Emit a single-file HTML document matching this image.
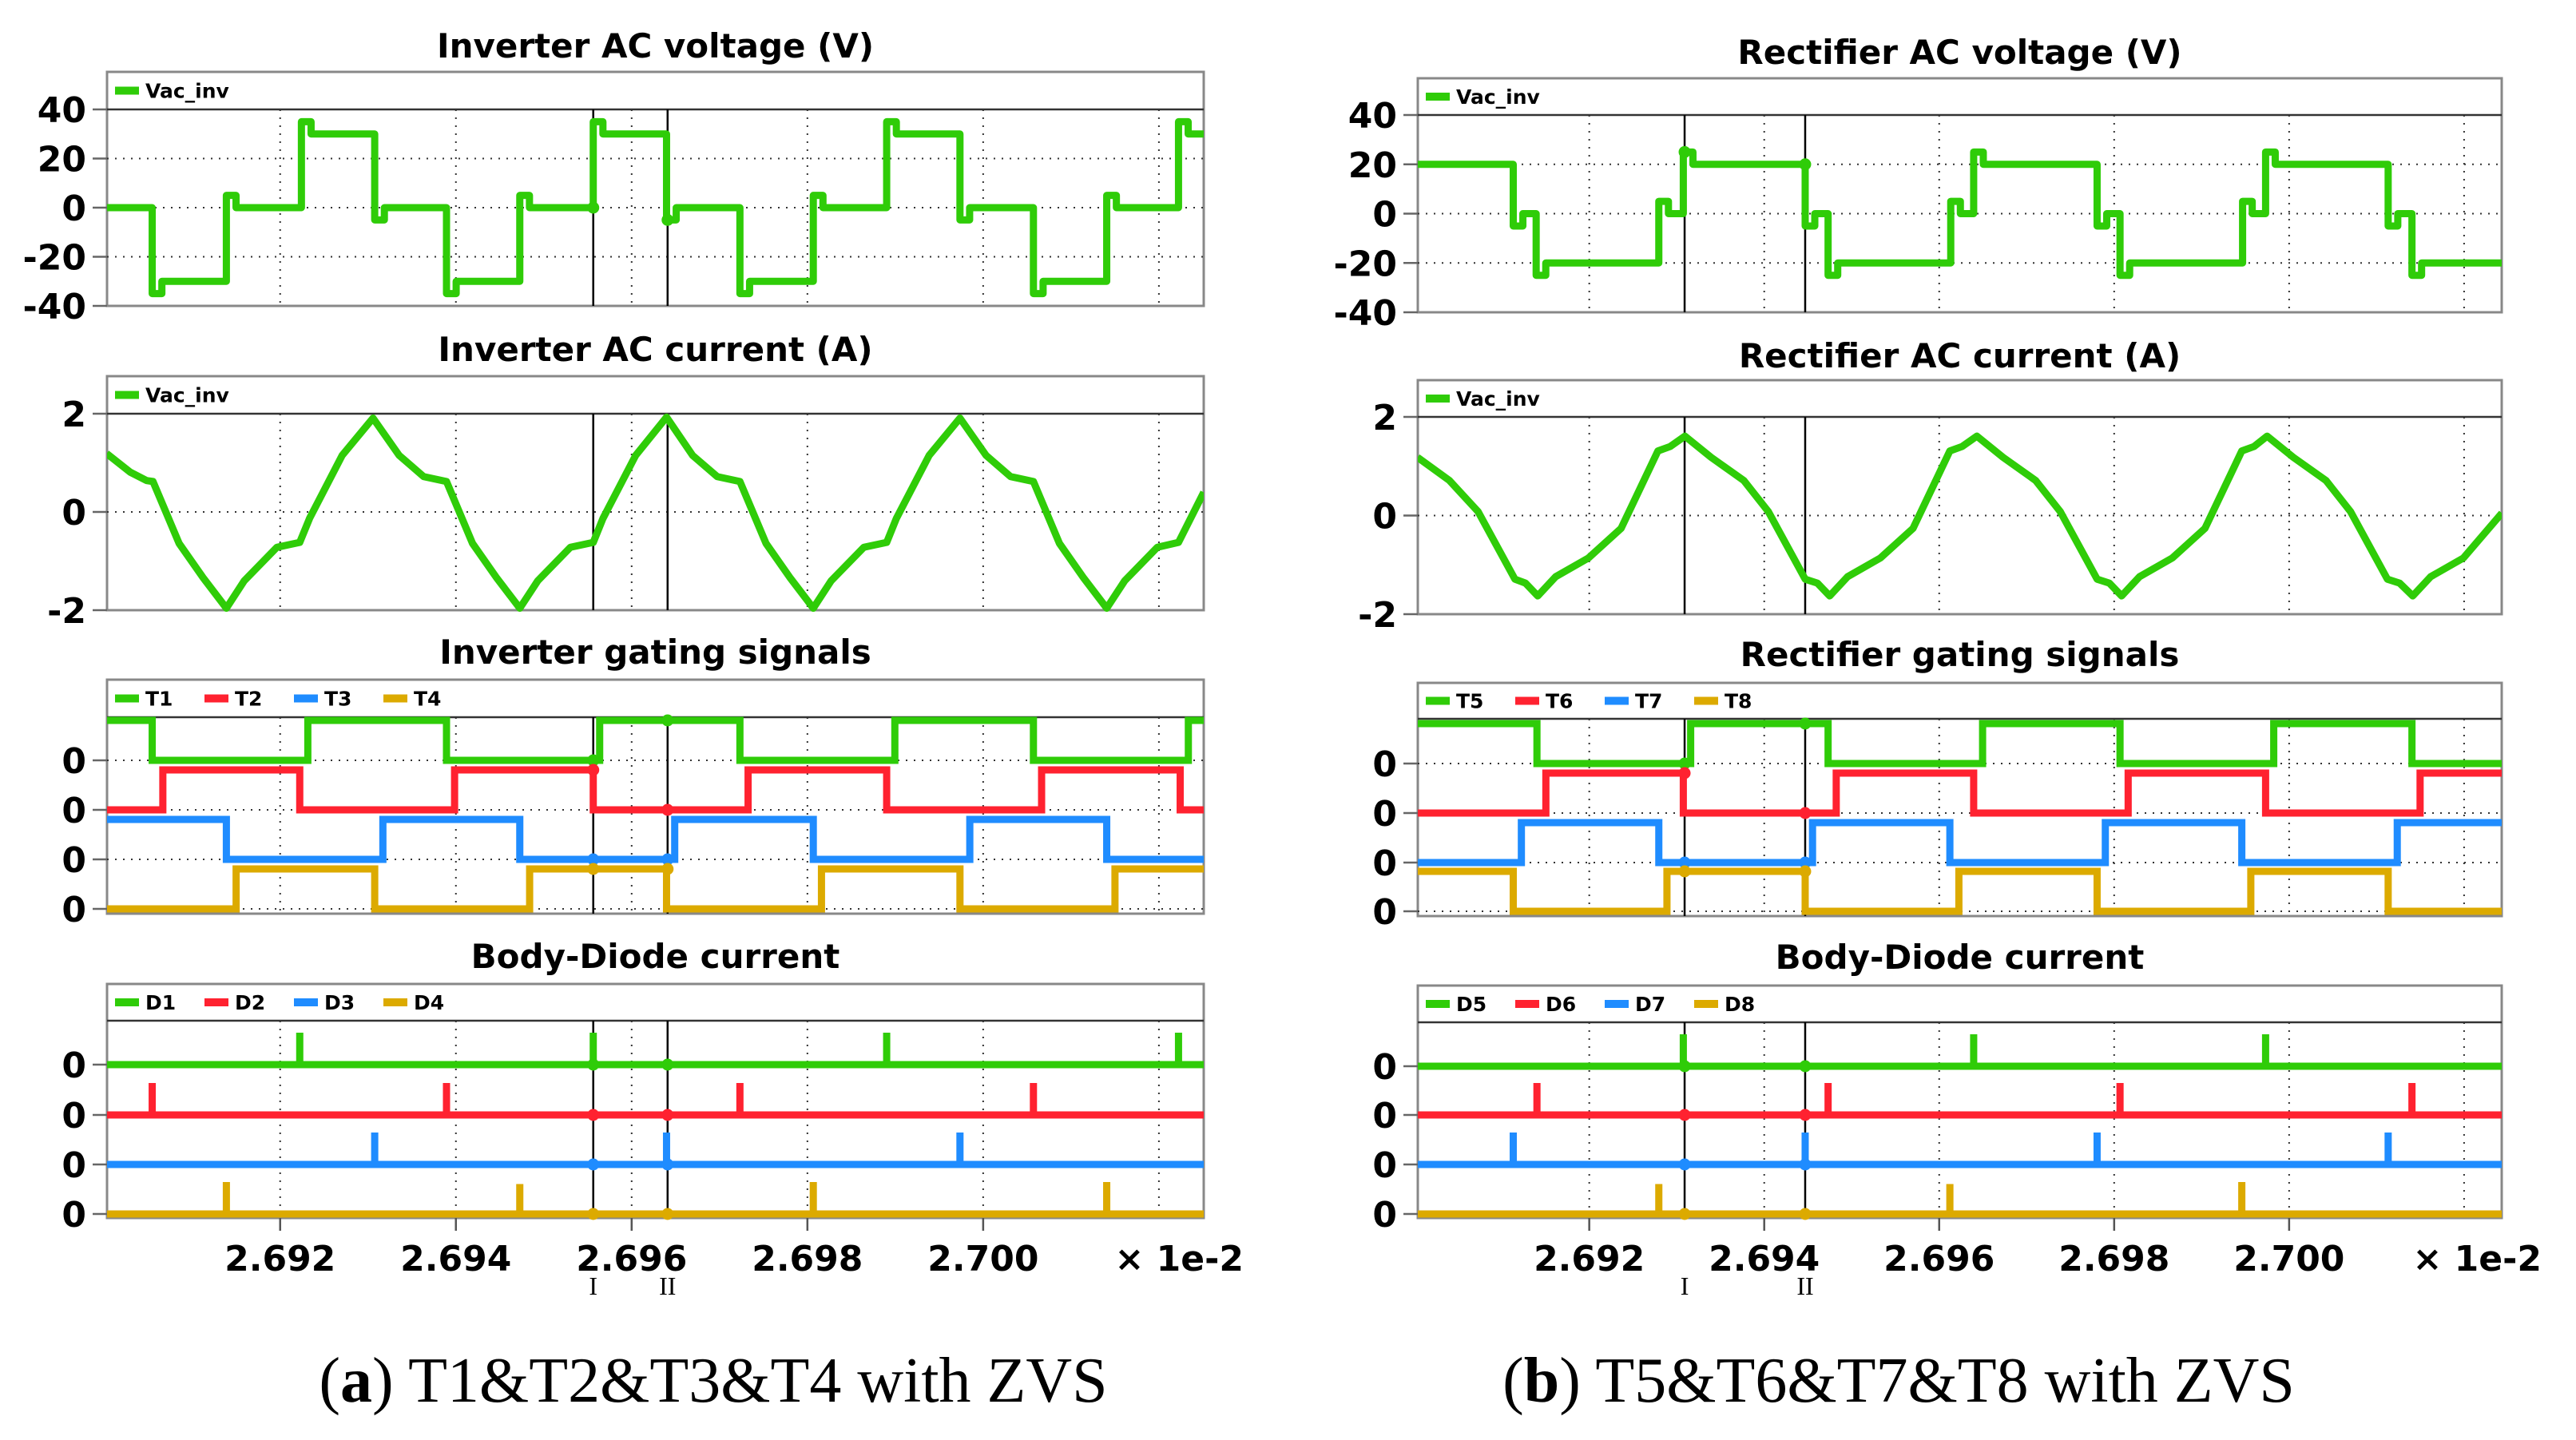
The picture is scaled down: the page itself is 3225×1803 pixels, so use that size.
<!DOCTYPE html>
<html><head><meta charset="utf-8"><style>
html,body{margin:0;padding:0;background:#fff;}
svg{display:block;}
text{font-family:"DejaVu Sans","Liberation Sans",sans-serif;font-weight:bold;}
.serif{font-family:"Liberation Serif",serif;font-weight:normal;}
</style></head><body>
<svg id="chart" width="3225" height="1803" viewBox="0 0 3225 1803" xmlns="http://www.w3.org/2000/svg"></svg>
<script>
// ---------- DATA (time in units of 1e-2 s) ----------
const xTicks = [2.692, 2.694, 2.696, 2.698, 2.700];
const xTickLabels = ["2.692","2.694","2.696","2.698","2.700"];
const xGrid = [2.692, 2.694, 2.696, 2.698, 2.700, 2.702];
const vTicks = [40, 20, 0, -20, -40];
const iTicks = [2, 0, -2];

// Left (inverter)
const invCursors = [2.695563, 2.696409];
const invVStart = 0;
const invVEdges = [2.690544,2.691388,2.692242,2.693076,2.693893,2.694727,2.695563,2.696397,2.697232,2.698067,2.698902,2.699736,2.700572,2.701406,2.702223];
const invVSpike = [-35,5,35,-5,-35,5,35,-5,-35,5,35,-5,-35,5,35];
const invVPlateau = [-30,0,30,0,-30,0,30,0,-30,0,30,0,-30,0,30];
const invITimes = [2.690025,2.690294,2.690479,2.690553,2.690850,2.691128,2.691388,2.691592,2.691963,2.692223,2.692335,2.692705,2.693057,2.693355,2.693633,2.693893,2.694189,2.694467,2.694727,2.694932,2.695303,2.695563,2.695674,2.696045,2.696397,2.696694,2.696973,2.697232,2.697529,2.697807,2.698067,2.698271,2.698642,2.698902,2.699013,2.699385,2.699736,2.700034,2.700312,2.700572,2.700868,2.701146,2.701406,2.701611,2.701982,2.702223,2.702510];
const invIValues = [1.19,0.81,0.64,0.62,-0.64,-1.35,-1.96,-1.40,-0.72,-0.62,-0.13,1.15,1.91,1.15,0.72,0.62,-0.64,-1.35,-1.96,-1.40,-0.72,-0.62,-0.13,1.15,1.93,1.15,0.72,0.62,-0.64,-1.35,-1.96,-1.40,-0.72,-0.62,-0.13,1.15,1.91,1.15,0.72,0.62,-0.64,-1.35,-1.96,-1.40,-0.72,-0.62,0.40];
const invGateNames = ["T1","T2","T3","T4"];
const invGateStart = [1,0,1,0];
const invGateEdges = [
 [2.690544,2.692315,2.693893,2.695636,2.697232,2.698995,2.700572,2.702335],
 [2.690665,2.692223,2.693985,2.695563,2.697325,2.698902,2.700665,2.702242],
 [2.691388,2.693169,2.694727,2.696490,2.698067,2.699848,2.701406],
 [2.691499,2.693076,2.694839,2.696397,2.698160,2.699736,2.701500]];
const invDiodeNames = ["D1","D2","D3","D4"];
const invDiodeSpikes = [
 [2.692223,2.695563,2.698902,2.702223],
 [2.690544,2.693893,2.697232,2.700572],
 [2.693076,2.696397,2.699736],
 [2.691388,2.694727,2.698067,2.701406]];
const invDiodeHeights = [
 [0.8,0.8,0.8,0.8],[0.8,0.8,0.8,0.8],[0.8,0.8,0.8],[0.8,0.75,0.8,0.8]];

// Right (rectifier)
const recCursors = [2.693090, 2.694468];
const recVStart = 20;
const recVEdges = [2.691131,2.691393,2.692795,2.693075,2.694468,2.694730,2.696132,2.696394,2.697805,2.698067,2.699468,2.699731,2.701132,2.701404];
const recVSpike = [-5,-25,5,25,-5,-25,5,25,-5,-25,5,25,-5,-25];
const recVPlateau = [0,-20,0,20,0,-20,0,20,0,-20,0,20,0,-20];
const recITimes = [2.690037,2.690402,2.690729,2.691150,2.691271,2.691411,2.691616,2.691991,2.692364,2.692785,2.692925,2.693094,2.693393,2.693767,2.694047,2.694468,2.694608,2.694748,2.694953,2.695328,2.695701,2.696122,2.696262,2.696431,2.696730,2.697103,2.697384,2.697805,2.697945,2.698085,2.698290,2.698665,2.699038,2.699459,2.699599,2.699749,2.700048,2.700422,2.700702,2.701123,2.701263,2.701413,2.701618,2.701993,2.702432];
const recIValues = [1.18,0.71,0.08,-1.29,-1.37,-1.63,-1.24,-0.86,-0.26,1.31,1.40,1.61,1.18,0.71,0.08,-1.29,-1.37,-1.63,-1.24,-0.86,-0.26,1.31,1.40,1.61,1.18,0.71,0.08,-1.29,-1.37,-1.63,-1.24,-0.86,-0.26,1.31,1.40,1.61,1.18,0.71,0.08,-1.29,-1.37,-1.63,-1.24,-0.86,0.05];
const recGateNames = ["T5","T6","T7","T8"];
const recGateStart = [1,0,0,1];
const recGateEdges = [
 [2.691402,2.693159,2.694730,2.696496,2.698067,2.699824,2.701404],
 [2.691504,2.693075,2.694823,2.696394,2.698160,2.699731,2.701497],
 [2.691224,2.692795,2.694552,2.696122,2.697899,2.699459,2.701236],
 [2.691131,2.692888,2.694468,2.696225,2.697805,2.699562,2.701132]];
const recDiodeNames = ["D5","D6","D7","D8"];
const recDiodeSpikes = [
 [2.693075,2.696394,2.699731],
 [2.691402,2.694730,2.698067,2.701404],
 [2.691131,2.694468,2.697805,2.701132],
 [2.692795,2.696122,2.699459]];
const recDiodeHeights = [
 [0.8,0.8,0.8],[0.8,0.8,0.8,0.8],[0.8,0.8,0.8,0.8],[0.75,0.75,0.8]];

// ---------- RENDERING ----------
const NS = "http://www.w3.org/2000/svg";
const svg = document.getElementById("chart");
const COLORS = ["#2fcc08","#ff2230","#1f8cff","#dcaa00"];
const SPIKE = 0.00011;
function el(tag, attrs, parent){ const e=document.createElementNS(NS,tag); for(const k in attrs) e.setAttribute(k,attrs[k]); (parent||svg).appendChild(e); return e; }
function txt(s, attrs, parent){ const e=el("text",attrs,parent); e.textContent=s; return e; }

function drawSide(cfg){
  const g = el("g",{});
  
  
  const X = t => cfg.x0 + (t - cfg.t0)/(cfg.t1 - cfg.t0)*(cfg.x1 - cfg.x0);
  const W = cfg.x1 - cfg.x0;

  function frame(p, name, legend){
    const pg = el("g",{},g);
    
    
    const t = txt(p.title,{x:(cfg.x0+cfg.x1)/2,y:p.titleY+15,"font-size":42,"text-anchor":"middle",fill:"#000"},pg);
    
    
    el("rect",{x:cfg.x0,y:p.box,width:W,height:p.bottom-p.box,fill:"#fff",stroke:"#888","stroke-width":3},pg);
    el("line",{x1:cfg.x0,x2:cfg.x1,y1:p.top,y2:p.top,stroke:"#333","stroke-width":2.5},pg);
    const lg = el("g",{},pg);
    
    
    let lx = cfg.x0 + 10, ly = (p.box + p.top)/2;
    legend.forEach((l,i)=>{
      const e = el("g",{},lg);
      
      
      el("rect",{x:lx,y:ly-5,width:30,height:10,fill:COLORS[i]},e);
      txt(l,{x:lx+38,y:ly+9,"font-size":25,fill:"#000"},e);
      lx += 38 + l.length*17 + 40;
    });
    xGrid.forEach(v=>{ const x=X(v); if(x>cfg.x0 && x<cfg.x1) el("line",{x1:x,x2:x,y1:p.top,y2:p.bottom,stroke:"#333","stroke-width":2,"stroke-dasharray":"2 8"},pg); });
    return pg;
  }
  function cursors(pg,p){
    cfg.cursors.forEach((c,i)=>{
      const l = el("line",{x1:X(c),x2:X(c),y1:p.top,y2:p.bottom,stroke:"#000","stroke-width":2.5},pg);
      
      
    });
  }
  function yTick(pg,y,label){
    el("line",{x1:cfg.x0-18,x2:cfg.x0,y1:y,y2:y,stroke:"#666","stroke-width":2.5},pg);
    const t = txt(label,{x:cfg.x0-26,y:y+16,"font-size":44,"text-anchor":"end",fill:"#000"},pg);
    
    
  }
  function dot(pg,x,y,c){ el("circle",{cx:x,cy:y,r:7.5,fill:c},pg); }

  {
    const p = cfg.V, pg = frame(p, cfg.prefix+'-voltage', ["Vac_inv"]);
    const Y = v => p.bottom - (v - (-40))/80*(p.bottom - p.top);
    vTicks.forEach(v=>{ if(v<40 && v>-40) el("line",{x1:cfg.x0,x2:cfg.x1,y1:Y(v),y2:Y(v),stroke:"#333","stroke-width":2,"stroke-dasharray":"2 8"},pg); yTick(pg,Y(v),String(v)); });
    cursors(pg,p);
    let d = "M"+cfg.x0+","+Y(cfg.vStart), lv = cfg.vStart;
    cfg.vEdges.forEach((t,i)=>{
      const x=X(t), xs=X(t+SPIKE);
      d += " L"+x+","+Y(lv)+" L"+x+","+Y(cfg.vSpike[i])+" L"+xs+","+Y(cfg.vSpike[i])+" L"+xs+","+Y(cfg.vPlateau[i]);
      lv = cfg.vPlateau[i];
    });
    d += " L"+cfg.x1+","+Y(lv);
    const path = el("path",{d:d,fill:"none",stroke:COLORS[0],"stroke-width":9,"stroke-linejoin":"round"},pg);
    
    
    cfg.cursors.forEach(c=>{ let v=cfg.vStart; cfg.vEdges.forEach((t,i)=>{ if(t<c-1e-5) v = (c-t<SPIKE)?cfg.vSpike[i]:cfg.vPlateau[i]; }); dot(pg,X(c),Y(v),COLORS[0]); });
  }
  {
    const p = cfg.I, pg = frame(p, cfg.prefix+'-current', ["Vac_inv"]);
    const Y = v => p.bottom - (v + 2)/4*(p.bottom - p.top);
    iTicks.forEach(v=>{ if(v===0) el("line",{x1:cfg.x0,x2:cfg.x1,y1:Y(v),y2:Y(v),stroke:"#333","stroke-width":2,"stroke-dasharray":"2 8"},pg); yTick(pg,Y(v),String(v)); });
    cursors(pg,p);
    const clipId = cfg.prefix+"clipI";
    const cp = el("clipPath",{id:clipId},pg); el("rect",{x:cfg.x0,y:p.top-10,width:W,height:p.bottom-p.top+20},cp);
    const d = cfg.iTimes.map((t,i)=>(i?"L":"M")+X(t)+","+Y(cfg.iValues[i])).join(" ");
    const path = el("path",{d:d,fill:"none",stroke:COLORS[0],"stroke-width":9,"stroke-linejoin":"round","clip-path":"url(#"+clipId+")"},pg);
    
    
  }
  {
    const p = cfg.G, pg = frame(p, cfg.prefix+'-gating', cfg.gateNames);
    cfg.G.zeros.forEach(z=>{ el("line",{x1:cfg.x0,x2:cfg.x1,y1:z,y2:z,stroke:"#333","stroke-width":2,"stroke-dasharray":"2 8"},pg); yTick(pg,z,"0"); });
    cursors(pg,p);
    cfg.gateEdges.forEach((edges,k)=>{
      const z = cfg.G.zeros[k], Y = v => z - v*50;
      let lv = cfg.gateStart[k], d = "M"+cfg.x0+","+Y(lv);
      edges.forEach(t=>{ d += " L"+X(t)+","+Y(lv); lv = 1-lv; d += " L"+X(t)+","+Y(lv); });
      d += " L"+cfg.x1+","+Y(lv);
      const path = el("path",{d:d,fill:"none",stroke:COLORS[k],"stroke-width":9},pg);
      
      
      cfg.cursors.forEach(c=>{ let v=cfg.gateStart[k]; edges.forEach(t=>{ if(t<c-2e-5) v=1-v; }); dot(pg,X(c),Y(v),COLORS[k]); });
    });
  }
  {
    const p = cfg.D, pg = frame(p, cfg.prefix+'-diode', cfg.diodeNames);
    cfg.D.zeros.forEach(z=>{ yTick(pg,z,"0"); });
    cursors(pg,p);
    cfg.diodeSpikes.forEach((sp,k)=>{
      const z = cfg.D.zeros[k], Y = v => z - v*50;
      let d = "M"+cfg.x0+","+z+" L"+cfg.x1+","+z;
      sp.forEach((t,i)=>{ d += " M"+X(t)+","+z+" L"+X(t)+","+Y(cfg.diodeHeights[k][i]); });
      const path = el("path",{d:d,fill:"none",stroke:COLORS[k],"stroke-width":9},pg);
      
      
      cfg.cursors.forEach(c=>dot(pg,X(c),z,COLORS[k]));
    });
    xTicks.forEach((v,i)=>{
      el("line",{x1:X(v),x2:X(v),y1:p.bottom,y2:p.bottom+16,stroke:"#555","stroke-width":2.5},pg);
      const t = txt(xTickLabels[i],{x:X(v),y:p.bottom+66,"font-size":44,"text-anchor":"middle",fill:"#000"},pg);
      
      
    });
    const u = txt("× 1e-2",{x:cfg.x1+50,y:p.bottom+66,"font-size":44,"text-anchor":"end",fill:"#000"},pg);
    
    
    ["I","II"].forEach((s,i)=>{
      const t = txt(s,{x:X(cfg.cursors[i]),y:p.bottom+96,"font-size":32,"text-anchor":"middle",fill:"#000",class:"serif"},pg);
      
      
    });
  }
  const cap = el("text",{x:cfg.capX,y:1755,"font-size":80,"text-anchor":"middle",fill:"#000",class:"serif"},g);
  
  
  const t1=document.createElementNS(NS,"tspan"); t1.textContent="("; cap.appendChild(t1);
  const t2=document.createElementNS(NS,"tspan"); t2.setAttribute("font-weight","bold"); t2.textContent=cfg.capLetter; cap.appendChild(t2);
  const t3=document.createElementNS(NS,"tspan"); t3.textContent=") "+cfg.capText; cap.appendChild(t3);
}

drawSide({prefix:"inverter", x0:134, x1:1507, t0:2.69003, t1:2.70251, cursors:invCursors,
  V:{title:"Inverter AC voltage (V)", titleY:57, box:90, top:137, bottom:383},
  I:{title:"Inverter AC current (A)", titleY:437, box:471, top:518, bottom:764},
  G:{title:"Inverter gating signals", titleY:816, box:851, top:898, bottom:1144, zeros:[952,1014,1076,1138]},
  D:{title:"Body-Diode current", titleY:1197, box:1232, top:1278, bottom:1525, zeros:[1333,1396,1458,1520]},
  vStart:invVStart, vEdges:invVEdges, vSpike:invVSpike, vPlateau:invVPlateau,
  iTimes:invITimes, iValues:invIValues,
  gateNames:invGateNames, gateStart:invGateStart, gateEdges:invGateEdges,
  diodeNames:invDiodeNames, diodeSpikes:invDiodeSpikes, diodeHeights:invDiodeHeights,
  capX:893, capLetter:"a", capText:"T1&T2&T3&T4 with ZVS"});

drawSide({prefix:"rectifier", x0:1775, x1:3132, t0:2.69004, t1:2.70243, cursors:recCursors,
  V:{title:"Rectifier AC voltage (V)", titleY:65, box:98, top:144, bottom:391},
  I:{title:"Rectifier AC current (A)", titleY:445, box:476, top:522, bottom:769},
  G:{title:"Rectifier gating signals", titleY:819, box:855, top:900, bottom:1147, zeros:[956,1018,1080,1141]},
  D:{title:"Body-Diode current", titleY:1198, box:1234, top:1280, bottom:1525, zeros:[1335,1396,1458,1520]},
  vStart:recVStart, vEdges:recVEdges, vSpike:recVSpike, vPlateau:recVPlateau,
  iTimes:recITimes, iValues:recIValues,
  gateNames:recGateNames, gateStart:recGateStart, gateEdges:recGateEdges,
  diodeNames:recDiodeNames, diodeSpikes:recDiodeSpikes, diodeHeights:recDiodeHeights,
  capX:2377, capLetter:"b", capText:"T5&T6&T7&T8 with ZVS"});
</script>
</body></html>
